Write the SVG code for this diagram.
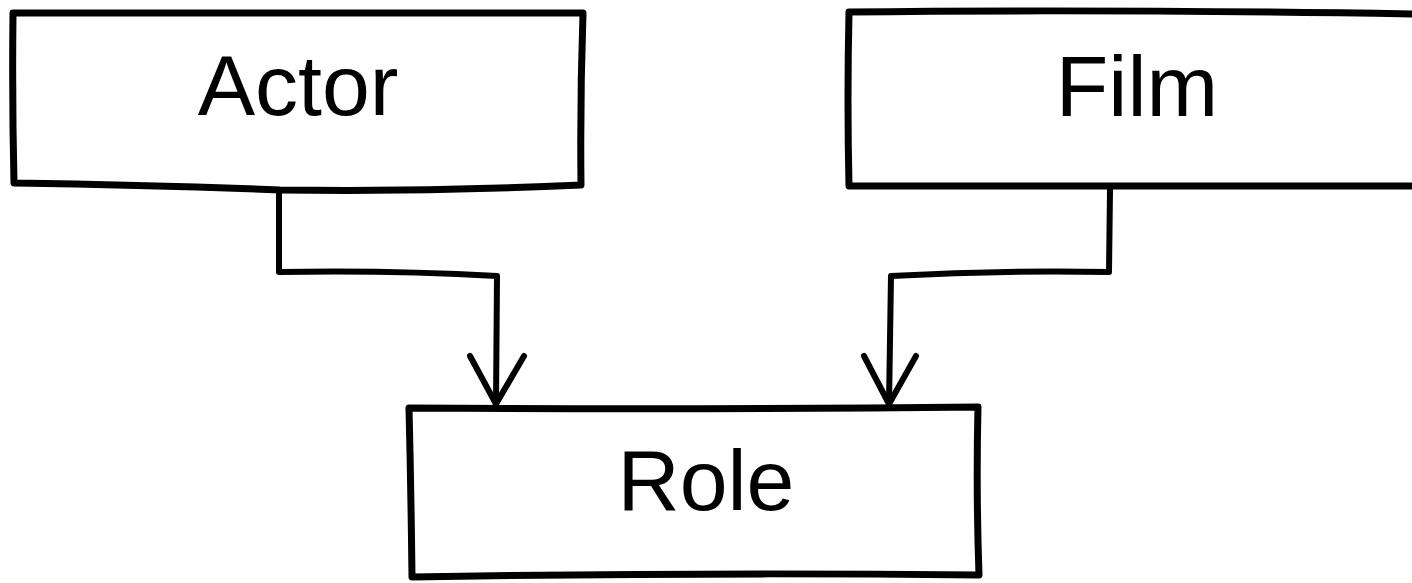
<svg xmlns="http://www.w3.org/2000/svg" width="1412" height="583" viewBox="0 0 1412 583">
<style>
.box{fill:#fff;stroke:#000;stroke-width:7;stroke-linejoin:round;stroke-linecap:round}
.edge{fill:none;stroke:#000;stroke-width:6;stroke-linejoin:round;stroke-linecap:round}
.lbl{font-family:"Liberation Sans",Arial,sans-serif;font-size:86px;fill:#000;text-anchor:middle}
</style>
<rect width="1412" height="583" fill="#fff"/>
<g id="connectors">
<path class="edge" d="M279,190 L279,272 Q390,270 497,276 L496,404"/>
<path class="edge" d="M470,356 L496,404 L524,356"/>
<path class="edge" d="M1110,190 L1109,272 Q1000,270 891,276 L889,404"/>
<path class="edge" d="M864,356 L889,404 L916,356"/>
</g>
<g id="actor">
<path class="box" d="M13,13 Q300,14 583,13 Q580,100 581,185 Q430,192 280,190 Q150,185 14,183 Q12,100 13,13 Z"/>
<text class="lbl" x="298" y="115">Actor</text>
</g>
<g id="film">
<path class="box" d="M849,12 Q1100,9 1420,14 L1420,186 Q1130,186 849,186 Q847,100 849,12 Z"/>
<text class="lbl" x="1137" y="116">Film</text>
</g>
<g id="role">
<path class="box" d="M409,408 Q700,410 978,407 Q976,490 979,575 Q700,572 412,577 Q411,490 409,408 Z"/>
<text class="lbl" x="706" y="510">Role</text>
</g>
</svg>
